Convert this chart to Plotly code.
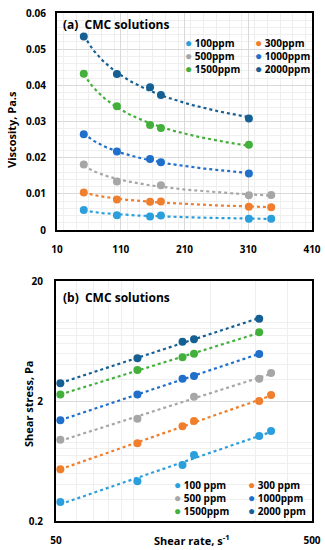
import numpy as np
import plotly.graph_objects as go

# ---------------- data ----------------
shear_rate = [52, 104, 156, 173, 311, 346]  # s^-1

series_names_a = ["100ppm", "300ppm", "500ppm", "1000ppm", "1500ppm", "2000ppm"]
series_names_b = ["100 ppm", "300 ppm", "500 ppm", "1000ppm", "1500ppm", "2000 ppm"]
colors = ["#2B9FDC", "#F07F2D", "#A6A6A6", "#1F6FCB", "#44B03C", "#155F93"]

# viscosity, Pa.s (panel a)
visc_100 = [0.0055, 0.0041, 0.0037, 0.0040, 0.0031, 0.0031]
visc_300 = [0.0104, 0.0084, 0.0078, 0.0079, 0.0064, 0.0063]
visc_500 = [0.0181, 0.0134, None, 0.0124, 0.0096, 0.0097]
visc_1000 = [0.0265, 0.0217, 0.0196, 0.0187, 0.0156, None]
visc_1500 = [0.0432, 0.0342, 0.0290, 0.0282, 0.0236, None]
visc_2000 = [0.0535, 0.0431, 0.0395, 0.0373, 0.0308, None]

# shear stress, Pa (panel b)
stress_100 = [0.288, 0.428, 0.586, 0.709, 1.02, 1.125]
stress_300 = [0.54, 0.888, 1.23, 1.36, 2.0, 2.24]
stress_500 = [0.95, 1.42, None, 2.17, 3.07, 3.42]
stress_1000 = [1.38, 2.27, 3.07, 3.23, 4.93, None]
stress_1500 = [2.27, 3.63, 4.62, 4.96, 7.47, None]
stress_2000 = [2.81, 4.54, 6.24, 6.53, 9.70, None]

visc = [visc_100, visc_300, visc_500, visc_1000, visc_1500, visc_2000]
stress = [stress_100, stress_300, stress_500, stress_1000, stress_1500, stress_2000]

a_xticks = [10, 110, 210, 310, 410]
b_xticks = [50, 500]
b_yticks = [0.2, 2, 20]

FONT = "Open Sans"

W = 325
H = 550


def fx(px):
    return px / W


def fy(py):
    return 1 - py / H


def power_fit(xs, ys):
    pts = [(x, y) for x, y in zip(xs, ys) if y is not None]
    px = np.array([p[0] for p in pts], float)
    py = np.array([p[1] for p in pts], float)
    b, la = np.polyfit(np.log(px), np.log(py), 1)
    xx = np.linspace(px.min(), px.max(), 80)
    return xx, np.exp(la) * xx ** b


fig = go.Figure()

for i in range(6):
    for ys, xa, ya in ((visc[i], "x", "y"), (stress[i], "x2", "y2")):
        xx, yy = power_fit(shear_rate, ys)
        fig.add_trace(go.Scatter(x=xx, y=yy, mode="lines", xaxis=xa, yaxis=ya,
                                 line=dict(color=colors[i], width=2.2, dash="dot"),
                                 showlegend=False, hoverinfo="skip"))
        fig.add_trace(go.Scatter(x=shear_rate, y=ys, mode="markers", xaxis=xa, yaxis=ya,
                                 marker=dict(color=colors[i], size=8),
                                 showlegend=False, name=series_names_a[i]))

grid = "#D9D9D9"
mgrid = "#EFEFEF"
tickfont = dict(family=FONT, size=10, color="#000000", weight="bold")

common_axis = dict(showline=True, linecolor="#000000", linewidth=2, mirror=True,
                   showgrid=True, gridcolor=grid, gridwidth=1, zeroline=False,
                   ticks="", ticklen=0, tickfont=tickfont, automargin=False)

fig.update_layout(
    width=W, height=H,
    margin=dict(l=0, r=0, t=0, b=0),
    paper_bgcolor="#FFFFFF", plot_bgcolor="#FFFFFF",
    font=dict(family=FONT, color="#000000"),
    showlegend=False,
    xaxis=dict(domain=[fx(57), fx(312)], anchor="y", range=[10, 410],
               tickvals=a_xticks, minor=dict(dtick=20, showgrid=True, gridcolor=mgrid),
               ticklabelstandoff=9, **common_axis),
    yaxis=dict(domain=[fy(230), fy(13)], anchor="x", range=[0, 0.06],
               dtick=0.01, minor=dict(dtick=0.002, showgrid=True, gridcolor=mgrid),
               ticklabelstandoff=7, **common_axis),
    xaxis2=dict(domain=[fx(56), fx(312)], anchor="y2", type="log",
                range=[np.log10(50), np.log10(500)], tickvals=b_xticks,
                minor=dict(tickvals=[60, 70, 80, 90, 100, 200, 300, 400], showgrid=True,
                           gridcolor=mgrid),
                ticklabelstandoff=9, **common_axis),
    yaxis2=dict(domain=[fy(521), fy(281)], anchor="x2", type="log",
                range=[np.log10(0.2), np.log10(20)], tickvals=b_yticks,
                minor=dict(tickvals=[0.3, 0.4, 0.5, 0.6, 0.7, 0.8, 0.9,
                                     3, 4, 5, 6, 7, 8, 9], showgrid=True,
                           gridcolor=mgrid),
                ticklabelstandoff=9, **common_axis),
)

ann = []
bold = dict(family=FONT, size=12, color="#000000", weight="bold")
ann.append(dict(text="(a)  CMC solutions", x=fx(61), y=fy(25),
                xref="paper", yref="paper", xanchor="left", yanchor="middle",
                showarrow=False, font=bold))
ann.append(dict(text="(b)  CMC solutions", x=fx(61), y=fy(297),
                xref="paper", yref="paper", xanchor="left", yanchor="middle",
                showarrow=False, font=bold))
title_font = dict(family=FONT, size=11, color="#000000", weight="bold")
ann.append(dict(text="Viscosity, Pa.s", x=fx(12), y=fy(130),
                xref="paper", yref="paper", xanchor="center", yanchor="middle",
                textangle=-90, showarrow=False, font=title_font))
ann.append(dict(text="Shear stress, Pa", x=fx(28), y=fy(404),
                xref="paper", yref="paper", xanchor="center", yanchor="middle",
                textangle=-90, showarrow=False, font=title_font))
ann.append(dict(text="Shear rate, s<sup>-1</sup>", x=fx(192), y=fy(540),
                xref="paper", yref="paper", xanchor="center", yanchor="middle",
                showarrow=False, font=title_font))

# legends (two columns, three rows) for both panels
order_cols = [[0, 2, 4], [1, 3, 5]]
leg_a = dict(cols=[183, 253], ymid=56)
leg_b = dict(cols=[172, 246], ymid=497)
for leg, names in ((leg_a, series_names_a), (leg_b, series_names_b)):
    for c, idxs in enumerate(order_cols):
        lines = [f"<span style='color:{colors[i]};font-size:12px'>●</span> {names[i]}"
                 for i in idxs]
        ann.append(dict(
            text="<br>".join(lines), align="left",
            x=fx(leg["cols"][c]), y=fy(leg["ymid"]),
            xref="paper", yref="paper", xanchor="left", yanchor="middle",
            showarrow=False,
            font=dict(family=FONT, size=10, color="#000000", weight="bold")))

fig.update_layout(annotations=ann)
fig.write_html("out.html",
               config={"displayModeBar": False},
               post_script="document.body.style.margin='0px';"
                           "document.body.style.overflow='hidden';")
